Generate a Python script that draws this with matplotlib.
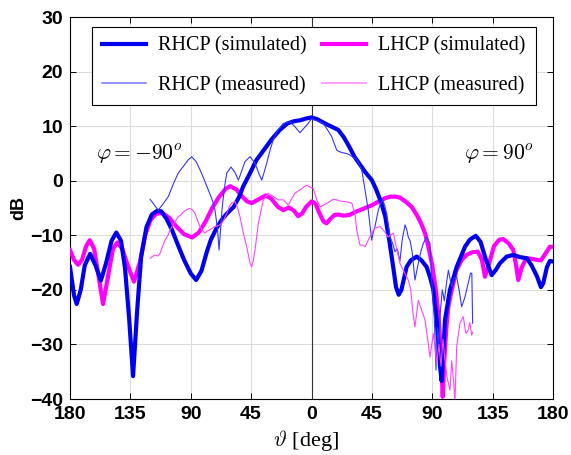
import matplotlib
matplotlib.use("Agg")
import matplotlib.pyplot as plt
from matplotlib.lines import Line2D

# ---------------- data ----------------
rhcp_sim_x = [-180, -177, -175, -172, -169, -165, -161, -157, -153, -149, -145.5, -142, -139, -136, -133,
              -130, -127, -123, -119, -115, -112, -108, -104, -100, -95, -90, -86, -82, -78, -75, -71,
              -67, -63, -58, -54, -51, -46, -41, -35, -30, -24, -18, -13, -8, -4, 0, 4, 10, 15, 20, 24,
              28, 32, 36, 40, 45, 48, 52, 55, 58, 61, 63, 65, 67, 70.9, 74, 78.4, 82, 85.8, 88.5, 90.8,
              93.3, 95.8, 97, 99.5, 103.2, 108.2, 114.4, 118, 122.4, 126, 130, 134.3, 137.5, 140.5,
              145.5, 150.4, 155.4, 160.4, 164, 168, 171, 172.7, 175.5, 177.7, 180]
rhcp_sim_y = [-15.8, -21, -22.6, -20, -15.5, -13.4, -15.5, -18.3, -15, -11, -9.5, -11, -16, -25, -35.8,
              -24, -14, -8.5, -6.2, -5.5, -5.6, -7, -9, -11.5, -14.5, -17, -18.2, -16.5, -13, -10.8, -8.8,
              -7.2, -6, -4.8, -3, -1.1, 1.3, 3.8, 5.8, 7.5, 9.2, 10.5, 10.9, 11.1, 11.4, 11.6, 11.3, 10.5,
              9.9, 9.3, 8, 6.3, 4.4, 3, 1.6, 0.1, -1.5, -4, -6.6, -11, -16, -19.5, -20.9, -20, -15.8,
              -14.6, -13.9, -14.6, -15.8, -17.8, -20, -25.5, -34, -36.7, -25.5, -20, -15.8, -12.1,
              -10.8, -10.1, -11.2, -14.5, -17.3, -16.3, -15.1, -13.9, -13.6, -14, -14.2, -15.5, -17.5,
              -19.5, -18.8, -15.8, -14.7, -14.8]

lhcp_sim_x = [-180, -177, -174, -171, -168, -165.3, -162, -159, -155.4, -152, -148, -144.7, -141, -137,
              -132.3, -128, -124, -120, -116, -111.2, -106, -101, -95, -89, -84, -79, -74, -69, -64,
              -60.7, -56, -52, -48, -44.6, -40, -34, -30, -25, -21, -17, -13, -10, -7, -4, 0, 3, 6, 9,
              11.3, 14, 17, 20, 24, 28, 32, 36, 40, 45, 50, 55, 59, 62.2, 66, 70, 74.7, 79, 82, 84.6,
              87, 90, 93, 95, 96.5, 97.8, 99, 100.5, 102, 105, 108, 112, 115.6, 120, 124, 127, 129.3,
              132, 136, 140, 143, 147, 150.4, 152.5, 154.1, 156.5, 160, 164, 167.8, 171, 174, 177.7, 180]
lhcp_sim_y = [-12.7, -14.5, -15.4, -14.5, -12, -10.9, -12.5, -17, -22.6, -18, -12.5, -11.3, -12.5, -15.5,
              -18.5, -15, -10, -7.2, -6.1, -5.9, -6.8, -8.3, -9.8, -10.4, -9.5, -7.5, -5, -3, -1.5,
              -1.0, -1.6, -2.8, -3.8, -4.1, -3.5, -2.7, -3.3, -4.8, -5.4, -4.9, -5.5, -6.5, -6.0, -4.8,
              -3.8, -4.2, -6, -7.5, -7.8, -7, -6.3, -6.2, -6.4, -6.3, -5.8, -5.4, -5.0, -4.5, -3.8, -3.2,
              -2.9, -2.9, -3.1, -3.8, -4.8, -6.5, -8, -9.6, -12, -15.5, -20.6, -26, -32, -39.6, -33,
              -27, -23, -19.5, -16.4, -14.5, -13.6, -13.1, -13, -14.5, -17.6, -15.5, -12, -10.8, -10.7,
              -11.5, -12.7, -15.5, -18.2, -16, -14.2, -14.3, -14.5, -14.6, -13.5, -12.1, -12.1]

rhcp_meas_x = [-120.3, -117, -114.2, -110.5, -106.7, -103, -99.3, -95, -92, -89.3, -86, -83.1, -80, -76.9,
               -74, -71.9, -70, -68.9, -67.5, -66.5, -65, -63.2, -60, -57, -54.5, -52, -49.6, -45.8,
               -42.1, -39.5, -37.1, -35, -33.4, -31, -28.5, -25, -21, -16, -12, -8.6, -5, -2.4, 0, 2.6,
               5, 8.8, 12, 15, 18.8, 21, 23.7, 26, 28.7, 31, 33.7, 35.5, 37.4, 39.9, 42.3, 44.9, 46,
               47.3, 49.8, 51.5, 53.1, 54.5, 56, 58.5, 60.5, 62.2, 64, 65.9, 67.5, 69.7, 71, 72.1, 73.5,
               75, 77.1, 79.6, 81.5, 83.3, 85.8, 88.3, 89.6, 90.5, 91.5, 92.8, 94, 95, 96, 97.5, 99,
               100.5, 102, 104.5, 106, 108.2, 110, 111.9, 114.4, 116.8, 118.6, 119.5, 120.1]
rhcp_meas_y = [-3.4, -4.5, -5.4, -4.2, -2.9, -0.6, 1.4, 2.8, 3.8, 4.4, 3.5, 2.0, 0.2, -1.7, -3.5, -5.4,
               -9, -12.7, -8, -4.8, -1.5, 1.4, 2.5, 1.5, 0.1, 1.8, 3.5, 4.4, 3.2, 1.5, 0.1, 1.8, 3.2, 5.5,
               7.5, 9.3, 10.5, 10.8, 9.8, 8.8, 9.8, 10.5, 11.4, 11.1, 10.9, 10.5, 9.3, 8.1, 5.6, 5.3, 5.1,
               5.0, 4.7, 4.3, 3.8, 3.0, 2.0, -1.7, -5.4, -10.9, -9.5, -8.4, -5.4, -4.2, -3.5, -4.5, -6.0,
               -10.3, -11.5, -13.0, -12.5, -14.8, -11, -8.1, -9, -10.3, -11, -13, -18.2, -15.1, -13,
               -11.5, -10.3, -11.5, -18.2, -22, -25, -34.7, -27, -30, -24, -20, -22, -19, -16.4, -19.4,
               -18, -17.6, -20, -23.1, -21.3, -18.8, -16.9, -17, -26.1]

lhcp_meas_x = [-120.3, -118, -116.6, -114.5, -112.9, -111, -109.2, -107, -105.4, -102, -99.3, -97, -95.5,
               -93, -90.5, -88.5, -86.8, -85, -83.1, -81, -79.4, -77.5, -75.6, -73.5, -71.9, -69, -66.9,
               -65, -63.2, -61, -59.5, -57, -55, -53.3, -50.8, -48.3, -45.8, -44.6, -43.3, -42.1, -39.6,
               -35.9, -32.2, -28.5, -24.7, -21, -19, -17.3, -15, -12.3, -10, -8.6, -6, -3.6, -1.1, 1.3,
               3.9, 6.3, 9, 11, 13.8, 16, 18.8, 21, 23.7, 27, 30, 32.4, 33.7, 36.1, 38, 39.9, 42.3, 44.9,
               47.3, 51, 54, 57.2, 61, 63.5, 65.9, 67.2, 69.7, 72.1, 74, 75.5, 77.1, 79.6, 82.1, 84.6,
               87, 88.3, 90.8, 93.3, 95, 96.5, 98, 99.5, 101, 103.2, 104.5, 106, 106.9, 108.2, 110.7,
               113.1, 115.1, 116.8, 118, 119.4, 120.2]
lhcp_meas_y = [-14.2, -13.8, -13.6, -13.8, -13.3, -12, -10.9, -10, -9.0, -7.6, -6.6, -6.2, -5.7, -5.3,
               -5.1, -5.4, -6.0, -7.2, -8.4, -9.2, -9.6, -9.2, -9.0, -8.6, -8.4, -8.2, -7.8, -7, -6.0,
               -4.6, -4.1, -3.8, -5, -6.6, -9.6, -12.1, -15.1, -15.8, -14.5, -12.7, -7.8, -3.5, -2.3,
               -2.9, -3.5, -3.5, -4.0, -4.5, -3.4, -2.3, -1.9, -1.7, -1.2, -0.8, -1.2, -1.4, -3.5, -4.8,
               -4.5, -4.2, -3.8, -3.4, -3.5, -3.7, -3.8, -3.9, -4.1, -6.0, -9.0, -11.8, -11.8, -12.1,
               -10.9, -9.6, -8.7, -8.4, -9.2, -10.3, -9.6, -12.5, -15.1, -15.8, -17, -18.2, -20, -24,
               -26.8, -21.9, -23.7, -25.5, -29.8, -32.3, -28, -33.5, -30, -34, -29, -33, -36, -38.4,
               -33, -37, -40.7, -30.4, -26.1, -24.9, -28, -27.4, -26, -28.3, -27.8]

xticks = [-180, -135, -90, -45, 0, 45, 90, 135, 180]
xtick_labels = ["180", "135", "90", "45", "0", "45", "90", "135", "180"]
yticks = [-40, -30, -20, -10, 0, 10, 20, 30]

# ---------------- plot ----------------
plt.rcParams['mathtext.fontset'] = 'cm'
fig = plt.figure(figsize=(5.71, 4.55), dpi=100)
ax = fig.add_axes([70/571, 56/455, 483/571, 382/455])

blue = '#0000F0'
mag = '#FF00FF'
thin_blue = '#3535FF'
thin_mag = '#FF45FF'

ax.axvline(0, color='#333333', lw=0.8, zorder=1)
ax.plot(rhcp_sim_x, rhcp_sim_y, color=blue, lw=3.0, solid_joinstyle='round', zorder=4)
ax.plot(lhcp_sim_x, lhcp_sim_y, color=mag, lw=3.0, solid_joinstyle='round', zorder=3)
ax.plot(rhcp_meas_x, rhcp_meas_y, color=thin_blue, lw=0.8, zorder=5)
ax.plot(lhcp_meas_x, lhcp_meas_y, color=thin_mag, lw=0.8, zorder=5)

ax.set_xlim(-180, 180)
ax.set_ylim(-40, 30)
ax.set_xticks(xticks)
ax.set_xticklabels(xtick_labels)
ax.set_yticks(yticks)
ax.grid(True, color='#dcdcdc', lw=0.8)
ax.set_axisbelow(True)
ax.tick_params(direction='in', top=True, right=True, length=4, width=0.7, pad=5)
for lab in ax.get_xticklabels() + ax.get_yticklabels():
    lab.set_fontfamily('Liberation Sans')
    lab.set_fontweight('bold')
    lab.set_fontsize(14)
for s in ax.spines.values():
    s.set_linewidth(0.8)

ax.set_ylabel('dB', fontfamily='Liberation Sans', fontweight='bold', fontsize=13, labelpad=2)
ax.set_xlabel(r'$\vartheta$ [deg]', fontfamily='Liberation Serif', fontsize=16, labelpad=0)
ax.xaxis.set_label_coords(0.488, -0.075)

ax.text(-160.5, 4.9, r'$\varphi = -90^o$', fontsize=15.5, va='center', ha='left')
ax.text(166, 4.9, r'$\varphi = 90^o$', fontsize=15.5, va='center', ha='right')

h_rs = Line2D([], [], color=blue, lw=3.0)
h_rm = Line2D([], [], color='#8080FF', lw=1.2)
h_ls = Line2D([], [], color=mag, lw=3.0)
h_lm = Line2D([], [], color='#FF8CFF', lw=1.2)
leg = ax.legend([h_rs, h_rm, h_ls, h_lm],
                ['RHCP (simulated)', 'RHCP (measured)', 'LHCP (simulated)', 'LHCP (measured)'],
                ncol=2, loc='upper left', bbox_to_anchor=(0.045, 0.975, 0.919, 0.0), mode='expand',
                prop={'family': 'Liberation Serif', 'size': 14.5}, frameon=True, fancybox=False,
                edgecolor='black', framealpha=1, handlelength=2.2, columnspacing=0.8,
                handletextpad=0.6, labelspacing=1.0, borderpad=0.5, borderaxespad=0)
leg.get_frame().set_linewidth(0.8)
leg.set_zorder(10)

fig.savefig('out.png', dpi=100)
